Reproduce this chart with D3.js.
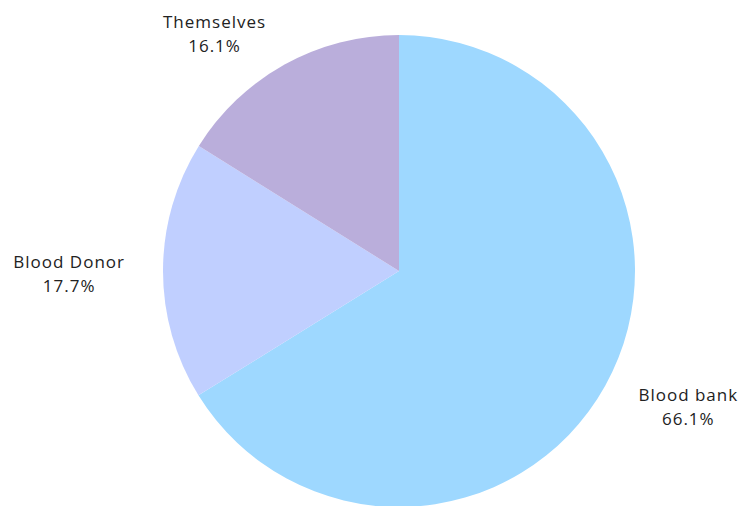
<!DOCTYPE html>
<html>
<head>
<meta charset="utf-8">
<script src="https://cdn.jsdelivr.net/npm/d3@7"></script>
<style>
  body { margin: 0; background: #fff; }
  text { font-family: "Open Sans", "Noto Sans", sans-serif; font-size: 17px; letter-spacing: 1px; fill: #222; }
</style>
</head>
<body>
<div id="chart"></div>
<script>
var svgWidth = 748;
var svgHeight = 506;

// slice data
var categories = ["Blood bank", "Blood Donor", "Themselves"];
var percents = [66.1, 17.7, 16.1];
var colors = ["#9ED8FF", "#C0CFFF", "#BAAEDB"];

var cx = 399, cy = 271, radius = 236;

var svg = d3.select("#chart")
  .append("svg")
  .attr("width", svgWidth)
  .attr("height", svgHeight);

var data = categories.map(function(c, i) {
  return { name: c, value: percents[i], color: colors[i] };
});

var pie = d3.pie()
  .sort(null)
  .value(d => d.value);

var arc = d3.arc()
  .innerRadius(0)
  .outerRadius(radius);

var labelArc = d3.arc()
  .innerRadius(radius + 38)
  .outerRadius(radius + 38);

var g = svg.append("g")
  .attr("transform", `translate(${cx}, ${cy})`);

var arcs = pie(data);

g.selectAll("path")
  .data(arcs)
  .enter()
  .append("path")
  .attr("d", arc)
  .attr("fill", d => d.data.color);

// labels: block sits outside the slice, two centered lines
var labels = g.selectAll("g.label")
  .data(arcs)
  .enter()
  .append("g")
  .attr("class", "label");

labels.each(function(d) {
  var p = labelArc.centroid(d);
  var mid = (d.startAngle + d.endAngle) / 2;
  var right = mid < Math.PI;
  var grp = d3.select(this);
  var t1 = grp.append("text")
    .attr("text-anchor", "middle")
    .text(d.data.name);
  var w = t1.node().getComputedTextLength();
  var x = right ? p[0] + w / 2 : p[0] - w / 2;
  t1.attr("x", x).attr("y", p[1] - 3);
  grp.append("text")
    .attr("text-anchor", "middle")
    .attr("x", x)
    .attr("y", p[1] + 21)
    .text(d.data.value.toFixed(1) + "%");
});
</script>
</body>
</html>
